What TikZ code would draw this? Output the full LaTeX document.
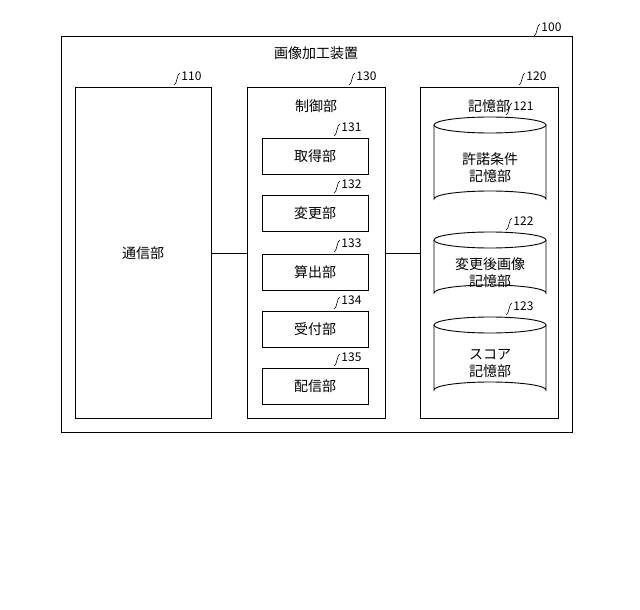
\documentclass[tikz,border=0pt]{standalone}
\usepackage{fontspec}
\setmainfont{Noto Sans CJK JP}
\begin{document}
\begin{tikzpicture}[x=1pt,y=-1pt,line width=0.9pt,
  box/.style={draw,inner sep=0pt},
  txt/.style={font=\fontsize{14}{17}\selectfont,align=center},
  num/.style={font=\fontsize{12}{13}\selectfont,anchor=west,inner sep=0pt}]
\useasboundingbox (0,0) rectangle (640,610);
\newcommand{\reflabel}[3]{%
  \draw[line width=0.6pt] (#1-6,#2+6) .. controls (#1-3,#2+6) and (#1-3,#2-6) .. (#1,#2-6);
  \node[num] at (#1+1,#2-3) {#3};}
\draw (61,36) rectangle (572,432);
\node[txt] (t) at (316,53) {画像加工装置};
\reflabel{540}{30}{100}
\draw (75,87) rectangle (211,418);
\node[txt] (c110) at (143,253) {通信部};
\reflabel{180}{79}{110}
\draw (247,87) rectangle (385,418);
\node[txt] at (316,106) {制御部};
\reflabel{355}{79}{130}
\draw (420,87) rectangle (558,418);
\node[txt] at (489,106) {記憶部};
\reflabel{525}{79}{120}
\coordinate (a1) at (211,253); \coordinate (a2) at (247,253);
\coordinate (b1) at (385,253); \coordinate (b2) at (420,253);
\draw (a1) -- (a2); \draw (b1) -- (b2);
\foreach \y/\t/\n in {138/取得部/131,195/変更部/132,254/算出部/133,311/受付部/134,368/配信部/135}{
  \draw (262,\y) rectangle (368,\y+36);
  \node[txt] at (315,\y+18) {\t};
  \reflabel{340}{\y-8}{\n}
}
\foreach \ya/\yb/\t/\n in {117/207/許諾条件\\記憶部/121,232/301/変更後画像\\記憶部/122,317/398/スコア\\記憶部/123}{
  \draw (434,\ya+8) -- (434,\yb-8) arc[start angle=180,end angle=360,x radius=56,y radius=8] -- (546,\ya+8);
  \draw (490,\ya+8) ellipse[x radius=56,y radius=8];
  \node[txt] at (490,{(\ya+\yb)/2+6}) {\t};
  \reflabel{512}{\ya-8}{\n}
}
\end{tikzpicture}
\end{document}
